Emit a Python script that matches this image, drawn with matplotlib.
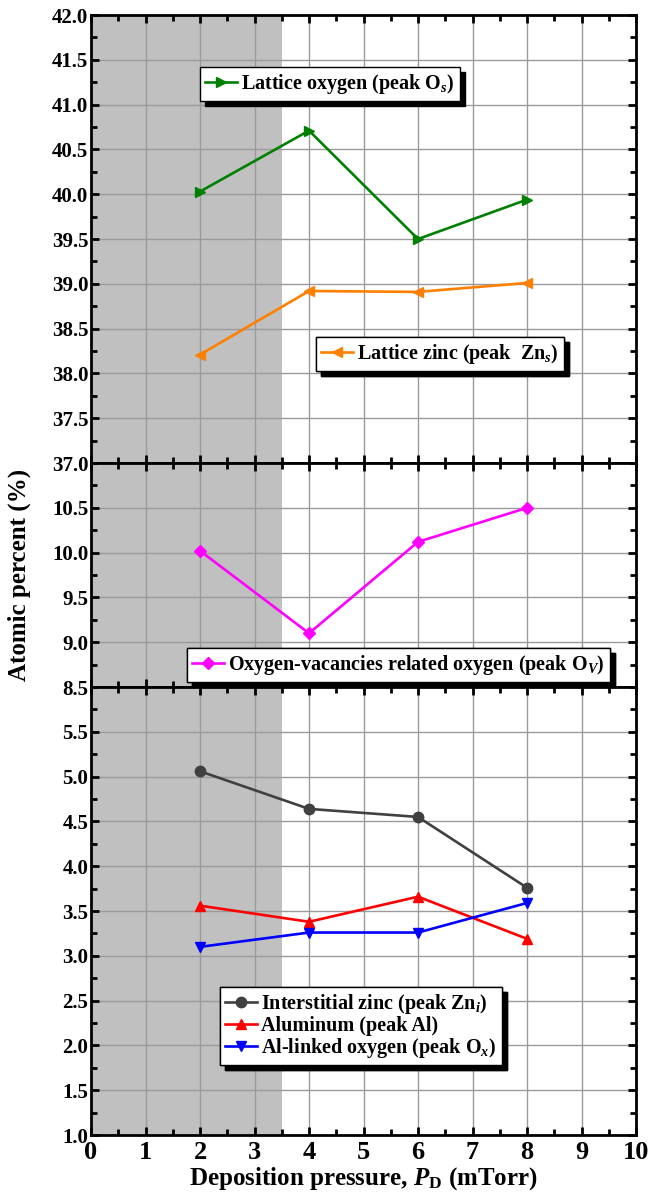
import numpy as np
import matplotlib
matplotlib.use("Agg")
import matplotlib.pyplot as plt
from matplotlib.ticker import MultipleLocator, FormatStrFormatter

plt.rcParams['font.family'] = 'Liberation Serif'
plt.rcParams['font.weight'] = 'bold'
plt.rcParams['mathtext.fontset'] = 'custom'
plt.rcParams['mathtext.rm'] = 'Liberation Serif:bold'
plt.rcParams['mathtext.it'] = 'Liberation Serif:bold:italic'
plt.rcParams['mathtext.bf'] = 'Liberation Serif:bold'

# deposition pressure (mTorr)
pressure = [2, 4, 6, 8]

# atomic percent per XPS component
lattice_o = [40.03, 40.71, 39.50, 39.94]
lattice_zn = [38.21, 38.92, 38.91, 39.01]
vacancy_o = [10.02, 9.10, 10.12, 10.50]
interstitial_zn = [5.06, 4.64, 4.55, 3.76]
aluminum = [3.56, 3.38, 3.66, 3.19]
al_linked_o = [3.10, 3.26, 3.26, 3.59]

label_lo = r'Lattice oxygen (peak O$_\mathit{s}$)'
label_lz = r'Lattice zinc (peak  Zn$_\mathit{s}$)'
label_vo = r'Oxygen-vacancies related oxygen (peak O$_\mathit{V}$)'
label_zi = r'Interstitial zinc (peak Zn$_\mathit{i}$)'
label_al = r'Aluminum (peak Al)'
label_ox = r'Al-linked oxygen (peak O$_\mathit{x}$)'

shade_end = 3.5

fig = plt.figure(figsize=(6.5, 12.03), dpi=100)
gs = fig.add_gridspec(3, 1, height_ratios=[5, 2.5, 5], hspace=0,
                      left=0.14, right=0.9785, top=0.9875, bottom=0.0565)
ax1 = fig.add_subplot(gs[0])
ax2 = fig.add_subplot(gs[1], sharex=ax1)
ax3 = fig.add_subplot(gs[2], sharex=ax1)

lw = 1.9
ms = 7.5

def style(ax, ylo, yhi):
  ax.axvspan(0, shade_end, color='#c0c0c0', zorder=0, lw=0)
  ax.set_xlim(0, 10)
  ax.set_ylim(ylo, yhi)
  ax.xaxis.set_major_locator(MultipleLocator(1))
  ax.xaxis.set_minor_locator(MultipleLocator(0.5))
  ax.yaxis.set_major_locator(MultipleLocator(0.5))
  ax.yaxis.set_minor_locator(MultipleLocator(0.25))
  ax.yaxis.set_major_formatter(FormatStrFormatter('%.1f'))
  ax.grid(which='major', color='#9a9a9a', linewidth=1.0, zorder=1)
  ax.set_axisbelow(True)
  ax.tick_params(which='both', direction='in', top=True, right=True, width=2)
  ax.tick_params(which='major', length=6, labelsize=15, pad=2)
  ax.tick_params(which='minor', length=4)
  for s in ax.spines.values():
    s.set_linewidth(2)
    s.set_zorder(5)

def legend(ax, handles, anchor):
  leg = ax.legend(handles=handles, loc='upper left', bbox_to_anchor=anchor,
                  borderaxespad=0, fancybox=False, edgecolor='black', framealpha=1,
                  shadow={'color': 'black', 'alpha': 1, 'ox': 3.5, 'oy': -3.5},
                  handlelength=1.6, handletextpad=0.2, borderpad=0.25,
                  labelspacing=0.0, prop={'size': 14.5, 'weight': 'bold'})
  leg.get_frame().set_linewidth(1.0)
  ax.add_artist(leg)
  return leg

# top panel: lattice oxygen and zinc
style(ax1, 37.0, 42.0)
l1, = ax1.plot(pressure, lattice_o, color='#008000', marker='>', lw=lw, ms=ms, label=label_lo, zorder=3)
l2, = ax1.plot(pressure, lattice_zn, color='#ff8000', marker='<', lw=lw, ms=ms, label=label_lz, zorder=3)
legend(ax1, [l1], (0.2, 0.884))
legend(ax1, [l2], (0.413, 0.281))
plt.setp(ax1.get_xticklabels(), visible=False)

# middle panel: oxygen vacancies
style(ax2, 8.5, 11.0)
l3, = ax2.plot(pressure, vacancy_o, color='#ff00ff', marker='D', lw=lw, ms=6.5, label=label_vo, zorder=3)
legend(ax2, [l3], (0.176, 0.173))
ax2.set_yticks(np.arange(8.5, 10.51, 0.5))
plt.setp(ax2.get_xticklabels(), visible=False)

# bottom panel: interstitial zinc, aluminum, Al-linked oxygen
style(ax3, 1.0, 6.0)
l4, = ax3.plot(pressure, interstitial_zn, color='#404040', marker='o', lw=lw, ms=ms, label=label_zi, zorder=3)
l5, = ax3.plot(pressure, aluminum, color='#ff0000', marker='^', lw=lw, ms=ms, label=label_al, zorder=3)
l6, = ax3.plot(pressure, al_linked_o, color='#0000ff', marker='v', lw=lw, ms=ms, label=label_ox, zorder=3)
legend(ax3, [l4, l5, l6], (0.237, 0.331))
ax3.set_yticks(np.arange(1.0, 5.51, 0.5))
ax3.tick_params(axis='x', labelsize=19, pad=4)

ax3.set_xlabel(r'Deposition pressure, $\mathit{P}_\mathrm{D}$ (mTorr)', fontsize=18, fontweight='bold', labelpad=1)
fig.text(0.03, 0.522, 'Atomic percent (%)', rotation=90, ha='center', va='center',
         fontsize=18, fontweight='bold')

fig.savefig('out.png', dpi=100)
